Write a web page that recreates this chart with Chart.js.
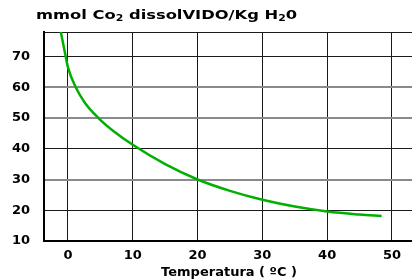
<!DOCTYPE html>
<html>
<head>
<meta charset="utf-8">
<script src="https://cdn.jsdelivr.net/npm/chart.js@4"></script>
<style>
    html, body { margin: 0; padding: 0; background: #fff; overflow: hidden; }
    #wrap { position: relative; width: 412px; height: 280px; overflow: hidden; }
    #chart { display: block; }
    #ttl {
        position: absolute; left: 36px; top: 8px;
        font: bold 12px 'DejaVu Sans', sans-serif; color: #000;
        white-space: nowrap; transform: scaleX(1.36); transform-origin: left top;
    }
    #ttl sub { font-size: 8px; vertical-align: -2px; }
</style>
</head>
<body>
<div id="wrap">
    <canvas id="chart" width="414" height="280"></canvas>
    <div id="ttl">mmol Co<sub>2</sub> dissolVIDO/Kg H<sub>2</sub>0</div>
</div>
<script>
// Data
const temps = [-1.1, -0.35, 0, 1.2, 2.6, 4.7, 7, 10, 15, 20, 25, 30, 35, 40, 45, 48.4];
const co2 = [78, 70, 66.5, 60, 55, 50, 45.8, 41.3, 35, 30, 26.3, 23.4, 21.2, 19.6, 18.6, 18.1];
const xTicks = [0, 10, 20, 30, 40, 50];
const yTicks = [10, 20, 30, 40, 50, 60, 70];
const xMin = -3.7, xMax = 53.4;
const yMin = 10, yMax = 78;

// horizontal lines that look grey/thicker in the original
const greyRows = [30, 50, 60];

const tickFont = { family: 'DejaVu Sans', weight: 'bold', size: 13 };

const ctx = document.getElementById('chart').getContext('2d');
new Chart(ctx, {
    type: 'line',
    data: {
        datasets: [{
            data: temps.map((t, i) => ({ x: t, y: co2[i] })),
            borderColor: '#00b000',
            borderWidth: 2.5,
            pointRadius: 0,
            cubicInterpolationMode: 'monotone',
            fill: false
        }]
    },
    options: {
        responsive: false,
        animation: false,
        layout: { padding: { top: 32, left: 12, right: 0, bottom: 0 } },
        plugins: {
            legend: { display: false },
            tooltip: { enabled: false }
        },
        scales: {
            x: {
                type: 'linear',
                min: xMin,
                max: xMax,
                afterBuildTicks: axis => { axis.ticks = xTicks.map(v => ({ value: v })); },
                afterFit: axis => { axis.height = 39; },
                ticks: { color: '#000', font: tickFont, padding: 7, maxRotation: 0 },
                grid: {
                    drawTicks: false,
                    lineWidth: 1,
                    color: c => (c.tick && xTicks.includes(c.tick.value)) ? '#1a1a1a' : 'rgba(0,0,0,0)'
                },
                border: { color: '#000', width: 2 },
                title: {
                    display: true,
                    text: 'Temperatura ( ºC )',
                    color: '#000',
                    font: { family: 'DejaVu Sans', weight: 'bold', size: 13 },
                    padding: { top: 0, bottom: 0 }
                }
            },
            y: {
                min: yMin,
                max: yMax,
                afterBuildTicks: axis => { axis.ticks = yTicks.concat([yMax]).map(v => ({ value: v })); },
                afterFit: axis => { axis.width = 32; },
                ticks: {
                    color: '#000',
                    font: tickFont,
                    padding: 14,
                    callback: v => yTicks.includes(v) ? v : ''
                },
                grid: {
                    drawTicks: false,
                    color: c => greyRows.includes(c.tick && c.tick.value) ? '#8a8a8a' : '#1a1a1a',
                    lineWidth: c => greyRows.includes(c.tick && c.tick.value) ? 2 : 1
                },
                border: { color: '#000', width: 2 }
            }
        }
    }
});
</script>
</body>
</html>
